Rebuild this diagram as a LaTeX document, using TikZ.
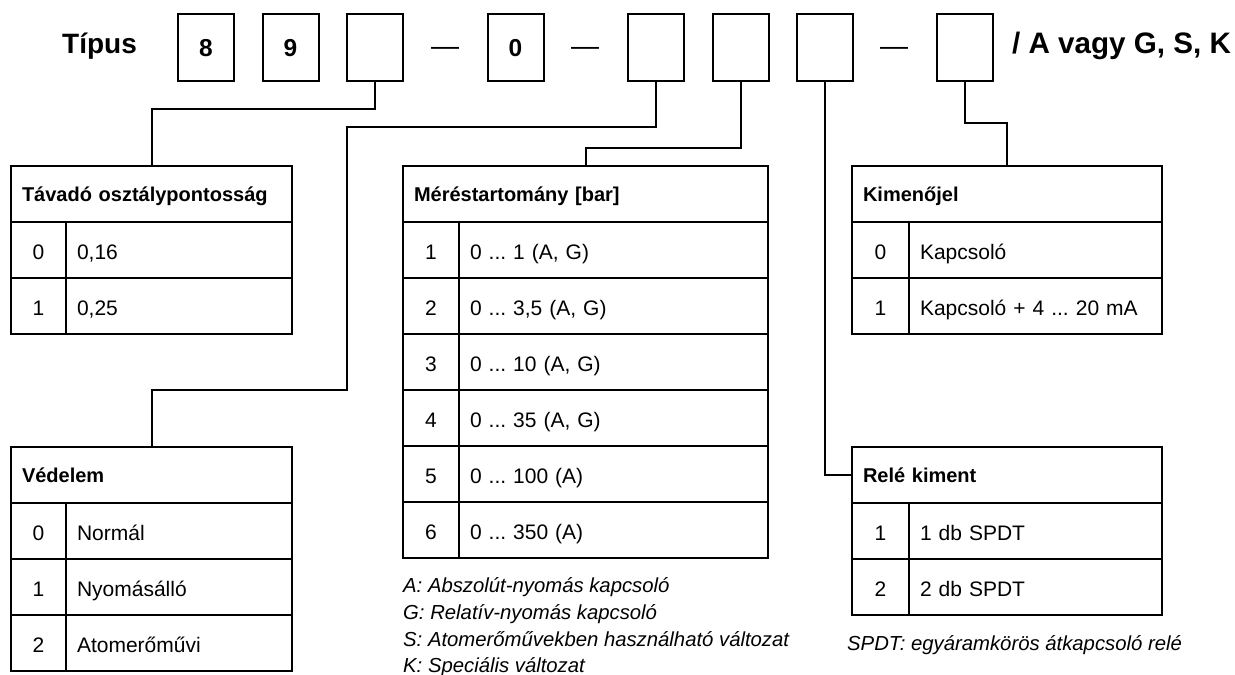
\documentclass[tikz,border=0pt]{standalone}
\usepackage{fontspec}
\setmainfont{Liberation Sans}
\frenchspacing
\newcommand\mycellfont{\fontsize{21}{25}\selectfont}
\newcommand\myhdrfont{\fontsize{20}{24}\selectfont\bfseries}
\newcommand\mytitlefont{\fontsize{28}{32}\selectfont\bfseries}
\newcommand\mysuffixfont{\fontsize{29.6}{32}\selectfont\bfseries}
\newcommand\mydigitfont{\fontsize{24.5}{27}\selectfont\bfseries}
\newcommand\mydashfont{\fontsize{28}{32}\selectfont}
\newcommand\myfnfont{\fontsize{20.3}{25}\selectfont\itshape}
\tikzset{
  ln/.style={line width=2pt, line join=miter},
  box/.style={draw, line width=2pt, inner sep=0pt, outer sep=0pt},
  hdr/.style={box, anchor=north west, inner xsep=11pt, minimum height=56pt, text height=15pt, text depth=0pt, align=left, font=\myhdrfont},
  numc/.style={box, anchor=north west, inner xsep=11pt, minimum height=56pt, text height=19pt, text depth=0pt, align=center, font=\mycellfont},
  valc/.style={box, anchor=north west, inner xsep=11pt, minimum height=56pt, text height=19pt, text depth=0pt, align=left, font=\mycellfont},
  digit/.style={box, minimum width=56pt, minimum height=67pt, text height=18pt, text depth=0pt, font=\mydigitfont},
  fn/.style={anchor=base west, inner sep=0pt, font=\myfnfont},
}
\begin{document}
\begin{tikzpicture}[x=1pt,y=-1pt]
\useasboundingbox (0,0) rectangle (1235,675);
% title line
\node[anchor=base west, inner sep=0pt, font=\mytitlefont] (title) at (62,53.3) {Típus};
\node[digit] (b1) at (206,47.5) {8};
\node[digit] (b2) at (290.5,47.5) {9};
\node[digit] (b3) at (375,47.5) {};
\node[anchor=base, inner sep=0pt, font=\mydashfont] (d1) at (445,55) {—};
\node[digit] (b4) at (515.5,47.5) {0};
\node[anchor=base, inner sep=0pt, font=\mydashfont] (d2) at (585,55) {—};
\node[digit] (b5) at (656,47.5) {};
\node[digit] (b6) at (740.5,47.5) {};
\node[digit] (b7) at (825,47.5) {};
\node[anchor=base, inner sep=0pt, font=\mydashfont] (d3) at (894,55) {—};
\node[digit] (b8) at (965,47.5) {};
\node[anchor=base west, inner sep=0pt, font=\mysuffixfont] (suffix) at (1012,53) {/ A vagy G, S, K};

% Table 1: Tavado
\node[hdr, text width=259pt] (t1h) at (11,166) {Távadó osztálypontosság};
\foreach \n/\v [count=\i] in {0/{0,16},1/{0,25}} {
  \node[numc, text width=33pt] (t1n\i) at (11,{222+56*(\i-1)}) {\n};
  \node[valc, text width=204pt] (t1v\i) at (66,{222+56*(\i-1)}) {\v};
}
% Table 2: Vedelem
\node[hdr, text width=259pt] (t2h) at (11,447) {Védelem};
\foreach \n/\v [count=\i] in {0/Normál,1/Nyomásálló,2/Atomerőművi} {
  \node[numc, text width=33pt] (t2n\i) at (11,{503+56*(\i-1)}) {\n};
  \node[valc, text width=204pt] (t2v\i) at (66,{503+56*(\i-1)}) {\v};
}
% Table 3: Merestartomany
\node[hdr, text width=343pt] (t3h) at (403,166) {Méréstartomány [bar]};
\foreach \n/\v [count=\i] in {1/{0 ... 1 (A, G)},2/{0 ... 3,5 (A, G)},3/{0 ... 10 (A, G)},4/{0 ... 35 (A, G)},5/{0 ... 100 (A)},6/{0 ... 350 (A)}} {
  \node[numc, text width=34pt] (t3n\i) at (403,{222+56*(\i-1)}) {\n};
  \node[valc, text width=287pt] (t3v\i) at (459,{222+56*(\i-1)}) {\v};
}
% Table 4: Kimenojel
\node[hdr, text width=288pt] (t4h) at (852,166) {Kimenőjel};
\foreach \n/\v [count=\i] in {0/Kapcsoló,1/{Kapcsoló + 4 ... 20 mA}} {
  \node[numc, text width=35pt] (t4n\i) at (852,{222+56*(\i-1)}) {\n};
  \node[valc, text width=231pt] (t4v\i) at (909,{222+56*(\i-1)}) {\v};
}
% Table 5: Rele kiment
\node[hdr, text width=288pt] (t5h) at (852,447) {Relé kiment};
\foreach \n/\v [count=\i] in {1/{1 db SPDT},2/{2 db SPDT}} {
  \node[numc, text width=35pt] (t5n\i) at (852,{503+56*(\i-1)}) {\n};
  \node[valc, text width=231pt] (t5v\i) at (909,{503+56*(\i-1)}) {\v};
}

% footnotes
\node[fn] (f1) at (403,592.7) {A: Abszolút-nyomás kapcsoló};
\node[fn] (f2) at (403,619.3) {G: Relatív-nyomás kapcsoló};
\node[fn] (f3) at (403,646) {S: Atomerőművekben használható változat};
\node[fn] (f4) at (403,672) {K: Speciális változat};
\node[fn] (f5) at (847,650) {SPDT: egyáramkörös átkapcsoló relé};

% connectors
\draw[ln] (b3.south) -- ++(0,28) -| (t1h.north);
\draw[ln] (b5.south) -- ++(0,46) -| ++(-309,263) -| (t2h.north);
\draw[ln] (b6.south) -- ++(0,67) -| (t3h.north);
\draw[ln] (b7.south) |- (t5h.west);
\draw[ln] (b8.south) -- ++(0,42) -| (t4h.north);
\end{tikzpicture}
\end{document}
